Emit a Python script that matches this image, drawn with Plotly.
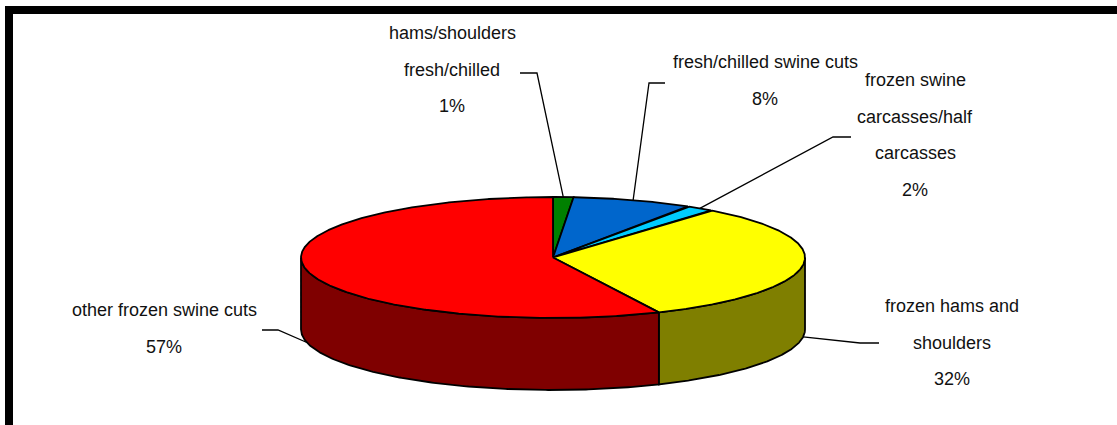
import numpy as np
import plotly.graph_objects as go

# ---- data ----
categories = [
    "hams/shoulders fresh/chilled",
    "fresh/chilled swine cuts",
    "frozen swine carcasses/half carcasses",
    "frozen hams and shoulders",
    "other frozen swine cuts",
]
label_lines = [
    ["hams/shoulders", "fresh/chilled"],
    ["fresh/chilled swine cuts"],
    ["frozen swine", "carcasses/half", "carcasses"],
    ["frozen hams and", "shoulders"],
    ["other frozen swine cuts"],
]
shares = [1.3, 7.7, 1.8, 32.3, 56.9]
colors = ["#008000", "#0066CC", "#00CCFF", "#FFFF00", "#FF0000"]

# ---- geometry (layout) ----
W, H = 1117, 425
cx, cy, ra, rb, depth = 553, 257.5, 252, 60.5, 72
FONT = "Liberation Sans Narrow, Arial Narrow, Liberation Sans, Arial"
FS = 18
LINE_GAP = 36.5

# label anchor (center x, first-line y), elbow and end of leader
label_pos = [(452, 33), (765, 62), (915, 80), (952, 306), (164, 310)]
leader_elbow = [(537, 73), (649, 83), (833, 137), (860, 343), (278, 330)]
leader_end = [(520, 73), (665, 83), (851, 137), (879, 343), (262, 330)]


def darker(hexc):
    r, g, b = int(hexc[1:3], 16), int(hexc[3:5], 16), int(hexc[5:7], 16)
    return "rgb(%d,%d,%d)" % (r // 2, g // 2, b // 2)


def ell(t_deg, dy=0.0):
    t = np.radians(t_deg)
    return cx + ra * np.sin(t), cy - rb * np.cos(t) + dy


fig = go.Figure()
total = sum(shares)
bounds = []
acc = 0.0
for v in shares:
    s = acc / total * 360
    acc += v
    e = acc / total * 360
    bounds.append((s, e))

# side walls (front half: 90..270 deg clockwise from top)
for (s, e), c in zip(bounds, colors):
    a0, a1 = max(s, 90), min(e, 270)
    if a1 <= a0:
        continue
    t = np.linspace(a0, a1, 200)
    xt, yt = ell(t)
    xb, yb = ell(t[::-1], depth)
    xs = np.concatenate([xt, xb, xt[:1]])
    ys = np.concatenate([yt, yb, yt[:1]])
    fig.add_trace(go.Scatter(x=xs, y=ys, mode="lines", fill="toself",
                             fillcolor=darker(c), line=dict(color="black", width=1.8),
                             hoverinfo="skip", showlegend=False))

# top faces
for (s, e), c, name in zip(bounds, colors, categories):
    t = np.linspace(s, e, max(int((e - s) * 3), 8))
    xt, yt = ell(t)
    xs = np.concatenate([[cx], xt, [cx]])
    ys = np.concatenate([[cy], yt, [cy]])
    fig.add_trace(go.Scatter(x=xs, y=ys, mode="lines", fill="toself",
                             fillcolor=c, line=dict(color="black", width=1.8),
                             name=name, hoverinfo="name", showlegend=False))

# leader lines and labels
for i, ((s, e), v) in enumerate(zip(bounds, shares)):
    m = (s + e) / 2
    front = 90 < m < 270
    x0, y0 = ell(m, depth if front else 0)
    ex, ey = leader_elbow[i]
    fx, fy = leader_end[i]
    fig.add_trace(go.Scatter(x=[x0, ex, fx], y=[y0, ey, fy], mode="lines",
                             line=dict(color="black", width=1.3),
                             hoverinfo="skip", showlegend=False))
    lx, ly = label_pos[i]
    lines = label_lines[i] + ["%d%%" % round(v / total * 100)]
    for k, txt in enumerate(lines):
        fig.add_annotation(x=lx, y=ly + k * LINE_GAP, text=txt, showarrow=False,
                           xanchor="center", yanchor="middle",
                           font=dict(family=FONT, size=FS, color="#111111"))

# frame (top and left borders)
fig.add_shape(type="rect", x0=5, x1=W + 5, y0=6, y1=14, fillcolor="black",
              line=dict(width=0), layer="above")
fig.add_shape(type="rect", x0=5, x1=13, y0=6, y1=H + 5, fillcolor="black",
              line=dict(width=0), layer="above")

fig.update_layout(
    width=W, height=H, margin=dict(l=0, r=0, t=0, b=0),
    paper_bgcolor="white", plot_bgcolor="white",
    xaxis=dict(range=[0, W], visible=False, fixedrange=True),
    yaxis=dict(range=[H, 0], visible=False, fixedrange=True),
)
fig.write_html("out.html")
